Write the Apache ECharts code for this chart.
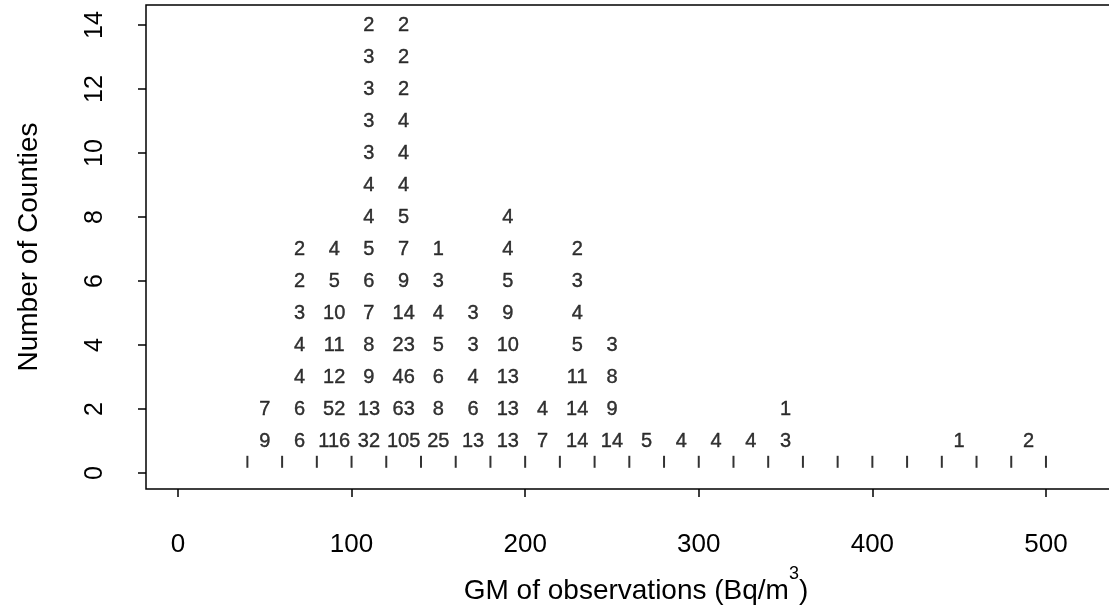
<!DOCTYPE html>
<html>
<head>
<meta charset="utf-8">
<script src="https://cdn.jsdelivr.net/npm/echarts@6/dist/echarts.min.js"></script>
<style>
  html, body { margin: 0; padding: 0; background: #fff; }
  #chart { width: 1109px; height: 616px; }
</style>
</head>
<body>
<div id="chart"></div>
<script>
// bin midpoints (Bq/m3) and the county observation counts stacked in each bin, bottom to top
const binMids = [50, 70, 90, 110, 130, 150, 170, 190, 210, 230, 250, 270, 290, 310, 330, 350, 450, 490];
const obsPerCounty = [
  [9, 7],
  [6, 6, 4, 4, 3, 2, 2],
  [116, 52, 12, 11, 10, 5, 4],
  [32, 13, 9, 8, 7, 6, 5, 4, 4, 3, 3, 3, 3, 2],
  [105, 63, 46, 23, 14, 9, 7, 5, 4, 4, 4, 2, 2, 2],
  [25, 8, 6, 5, 4, 3, 1],
  [13, 6, 4, 3, 3],
  [13, 13, 13, 10, 9, 5, 4, 4],
  [7, 4],
  [14, 14, 11, 5, 4, 3, 2],
  [14, 9, 8, 3],
  [5],
  [4],
  [4],
  [4],
  [3, 1],
  [1],
  [2]
];
// histogram break points shown as the rug of small bars
const breaks = [40, 60, 80, 100, 120, 140, 160, 180, 200, 220, 240, 260, 280, 300,
                320, 340, 360, 380, 400, 420, 440, 460, 480, 500];
const xTicks = [0, 100, 200, 300, 400, 500];
const yTicks = [0, 2, 4, 6, 8, 10, 12, 14];

const numberData = [];
binMids.forEach((mid, i) => {
  obsPerCounty[i].forEach((n, j) => numberData.push([mid, j + 1, n]));
});
const rugY = 0.35;

const chart = echarts.init(document.getElementById('chart'));
const font = 'Liberation Sans, Arial, Helvetica, sans-serif';

chart.setOption({
  animation: false,
  grid: {
    left: 146, top: 5, width: 980, height: 484,
    containLabel: false,
    outerBoundsMode: 'none',
    show: true, borderColor: '#000', borderWidth: 1.5, backgroundColor: 'transparent'
  },
  xAxis: {
    type: 'value',
    min: -18.4, max: 546.1,
    splitLine: { show: false },
    axisLine: { show: false, onZero: false },
    axisTick: { show: true, customValues: xTicks, length: 8, lineStyle: { color: '#000', width: 1.5 } },
    axisLabel: { customValues: xTicks, margin: 43, fontSize: 26, color: '#000', fontFamily: font },
    name: '{a|GM of observations (Bq/m}{s|3}{a|)}',
    nameLocation: 'middle',
    nameGap: 76,
    nameTextStyle: {
      fontFamily: font,
      rich: {
        a: { fontSize: 28, color: '#000', fontFamily: font, lineHeight: 40, verticalAlign: 'bottom' },
        s: { fontSize: 18, color: '#000', fontFamily: font, lineHeight: 40, verticalAlign: 'top' }
      }
    }
  },
  yAxis: {
    type: 'value',
    min: -0.5, max: 14.625,
    splitLine: { show: false },
    axisLine: { show: false, onZero: false },
    axisTick: { show: true, customValues: yTicks, length: 8, lineStyle: { color: '#000', width: 1.5 } },
    axisLabel: { customValues: yTicks, rotate: 90, margin: 38, fontSize: 25, color: '#000', fontFamily: font },
    name: 'Number of Counties',
    nameLocation: 'middle',
    nameGap: 103,
    nameTextStyle: { fontSize: 28, color: '#000', fontFamily: font }
  },
  series: [
    {
      name: 'counts',
      type: 'scatter',
      symbolSize: 0,
      data: numberData,
      label: {
        show: true,
        position: 'inside',
        formatter: p => String(p.value[2]),
        color: '#000',
        fontSize: 20,
        fontFamily: font,
        textBorderColor: '#000',
        textBorderWidth: 0.4
      }
    },
    {
      name: 'breaks',
      type: 'scatter',
      symbol: 'rect',
      symbolSize: [2, 12],
      itemStyle: { color: '#000' },
      data: breaks.map(b => [b, rugY])
    }
  ]
});
</script>
</body>
</html>
